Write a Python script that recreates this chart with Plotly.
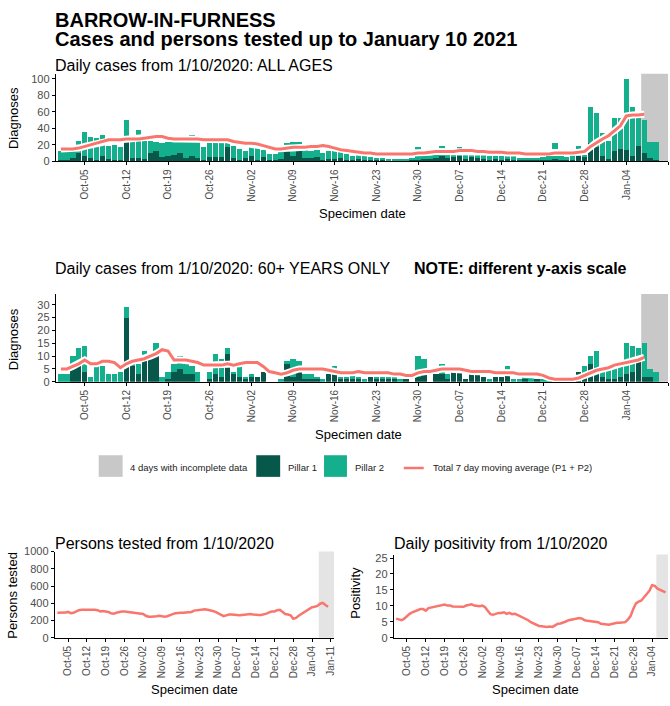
import pandas as pd
import plotly.graph_objects as go

# ---------------- data ----------------
start_date = "2020-10-01"

tick_dates = ["2020-10-05", "2020-10-12", "2020-10-19", "2020-10-26", "2020-11-02",
              "2020-11-09", "2020-11-16", "2020-11-23", "2020-11-30", "2020-12-07",
              "2020-12-14", "2020-12-21", "2020-12-28", "2021-01-04", "2021-01-11"]
tick_labels = ["Oct-05", "Oct-12", "Oct-19", "Oct-26", "Nov-02", "Nov-09", "Nov-16",
               "Nov-23", "Nov-30", "Dec-07", "Dec-14", "Dec-21", "Dec-28", "Jan-04", "Jan-11"]

# All ages: Pillar 1 / Pillar 2 daily cases (Oct 1 .. Jan 9)
all_p1 = [2, 1, 4, 10, 7, 4, 2, 6, 3, 2,
          1, 25, 4, 4, 3, 10, 13, 5, 7, 8,
          10, 4, 7, 4, 1, 5, 5, 5, 17, 4,
          2, 4, 6, 2, 5, 2, 1, 3, 12, 7,
          12, 4, 4, 5, 2, 3, 3, 4, 2, 2,
          3, 2, 1, 1, 2, 1, 1, 1, 1, 1,
          2, 3, 3, 4, 6, 4, 5, 7, 3, 5,
          4, 3, 2, 3, 2, 3, 2, 1, 1, 2,
          1, 1, 2, 3, 1, 1, 2, 6, 5, 22,
          17, 6, 3, 12, 15, 14, 6, 18, 10, 4,
          2]
all_p2 = [10, 11, 8, 15, 29, 25, 26, 26, 15, 18,
          16, 25, 21, 34, 22, 15, 11, 17, 17, 16,
          13, 19, 25, 19, 16, 18, 18, 18, 5, 14,
          13, 9, 12, 14, 9, 7, 8, 8, 10, 16,
          12, 10, 9, 10, 8, 10, 9, 7, 7, 5,
          5, 4, 4, 3, 2, 2, 2, 2, 2, 3,
          15, 6, 5, 9, 12, 6, 5, 10, 7, 5,
          6, 5, 4, 4, 5, 4, 4, 3, 3, 2,
          3, 4, 10, 19, 5, 4, 7, 12, 3, 44,
          41, 28, 22, 40, 37, 86, 60, 34, 40, 20,
          22]
all_ma = [15, 15, 15, 16, 18, 20, 22, 24, 26, 26,
          26, 27, 27, 27, 28, 29, 30, 30, 28, 27,
          27, 27, 27, 27, 26, 26, 26, 26, 26, 24,
          23, 22, 22, 21, 19, 17, 15, 15, 16, 17,
          17, 17, 18, 18, 19, 18, 16, 14, 13, 12,
          11, 10, 10, 9, 9, 9, 9, 9, 9, 9,
          10, 10, 11, 12, 12, 12, 12, 13, 13, 13,
          12, 12, 11, 11, 11, 10, 10, 10, 9, 9,
          9, 9, 9, 10, 10, 10, 10, 11, 12, 18,
          23, 27, 31, 37, 43, 55, 56, 56, 57]

# 60+ only
old_p1 = [0, 0, 5, 6, 4, 0, 0, 0, 0, 0,
          0, 25, 6, 3, 8, 9, 11, 0, 1, 4,
          5, 3, 3, 0, 0, 1, 3, 2, 11, 3,
          2, 1, 2, 2, 4, 0, 0, 0, 7, 2,
          4, 1, 1, 1, 0, 3, 5, 1, 1, 1,
          1, 0, 2, 1, 1, 1, 1, 0, 1, 0,
          2, 3, 0, 3, 3, 1, 4, 4, 1, 3,
          3, 2, 0, 2, 2, 3, 0, 0, 1, 0,
          1, 0, 0, 0, 0, 0, 0, 4, 3, 7,
          3, 2, 1, 1, 2, 3, 4, 8, 2, 2,
          0]
old_p2 = [3, 3, 5, 7, 10, 2, 6, 6, 3, 3,
          4, 4, 1, 4, 4, 2, 4, 2, 3, 3,
          5, 4, 3, 4, 0, 3, 8, 7, 2, 1,
          4, 1, 1, 0, 0, 0, 0, 1, 1, 7,
          4, 2, 2, 1, 1, 0, 1, 1, 1, 3,
          1, 1, 0, 1, 1, 1, 1, 1, 0, 0,
          8, 6, 0, 0, 4, 2, 0, 0, 0, 0,
          0, 0, 1, 0, 0, 3, 1, 1, 1, 2,
          0, 1, 1, 0, 0, 0, 0, 0, 3, 3,
          9, 4, 4, 5, 4, 12, 10, 5, 13, 3,
          4]
old_ma = [5, 5, 6, 7, 8.5, 7, 7, 8, 8, 7.5,
          5.5, 7, 8, 8.5, 9, 10, 11, 12.5, 12, 8.5,
          8.5, 8.5, 8, 7.5, 6.5, 6.5, 6.5, 6.5, 7, 6.5,
          7, 7.5, 7.5, 7.5, 6, 4, 3.5, 3, 3.5, 4.5,
          5, 5, 5, 5, 5, 4.5, 4, 3.5, 3.5, 3.5,
          4, 3.5, 3.5, 3.5, 3.5, 3.5, 3, 3, 2.5, 2.5,
          3.5, 4, 4, 4.5, 5, 5, 5, 5, 4.5, 4,
          4, 4, 4, 3.5, 3.5, 3.5, 3.5, 3, 3, 3,
          3, 2.5, 1.5, 1, 1, 1, 1, 1.5, 2.5, 3.5,
          4.5, 5, 5.5, 6.5, 7, 7.5, 8, 8.5, 9.5]

# Persons tested (Oct 1 .. Jan 10)
tested = [290, 290, 290, 292, 300, 285, 290, 305, 320, 325,
          327, 327, 325, 325, 325, 320, 305, 310, 305, 300,
          285, 280, 290, 300, 305, 305, 300, 300, 295, 285,
          280, 280, 275, 255, 245, 245, 245, 250, 255, 250,
          245, 250, 265, 275, 285, 290, 290, 290, 295, 295,
          300, 315, 320, 325, 330, 330, 325, 320, 310, 300,
          280, 260, 250, 260, 270, 270, 265, 260, 260, 265,
          270, 275, 275, 270, 265, 265, 265, 270, 280, 295,
          305, 305, 320, 325, 295, 275, 270, 260, 220, 230,
          255, 275, 290, 310, 330, 355, 360, 370, 395, 405,
          380, 360]

# Daily positivity, % (Oct 1 .. Jan 9)
positivity = [6.0, 5.7, 5.5, 6.0, 6.8, 7.5, 8.0, 8.4, 8.8, 9.0,
              9.0, 8.5, 9.3, 9.5, 9.5, 9.7, 9.9, 10.3, 10.4, 10.1,
              10.1, 9.8, 9.8, 9.9, 9.8, 9.7, 10.1, 10.3, 10.5, 10.1,
              9.9, 9.9, 10.1, 9.6, 8.5, 7.4, 7.2, 7.5, 7.8, 7.8,
              8.0, 7.5, 7.8, 7.4, 7.5, 7.2, 6.8, 6.5, 6.0, 5.5,
              4.9, 4.5, 4.1, 3.7, 3.6, 3.4, 3.4, 3.5, 3.4, 3.9,
              4.4, 4.5, 4.7, 5.1, 5.5, 5.7, 6.0, 6.2, 6.2, 6.0,
              5.5, 5.3, 5.2, 5.1, 5.1, 4.9, 4.4, 4.3, 4.2, 4.1,
              4.3, 4.6, 4.7, 4.7, 4.7, 4.9, 5.7, 6.8, 9.0, 10.8,
              11.3, 11.7, 12.7, 13.7, 14.7, 16.5, 16.3, 15.4, 15.0, 14.7,
              14.2]

# ---------------- styling ----------------
W, H = 670, 706
def fx(x):
    return x / W
def fy(y):
    return 1 - y / H

FONT = "Liberation Sans, Arial, sans-serif"
RED = "#F8766D"
P1C = "#07574A"
P2C = "#14AF8D"
GREY = "#C8C8C8"
LGREY = "#E4E4E4"
TICKC = "#4D4D4D"

bar_dates = pd.date_range(start_date, periods=len(all_p1))
ma_dates = pd.date_range(start_date, periods=len(all_ma))
old_ma_dates = pd.date_range(start_date, periods=len(old_ma))
tested_dates = pd.date_range(start_date, periods=len(tested))
pos_dates = pd.date_range(start_date, periods=len(positivity))

fig = go.Figure()

def add_panel(p1, p2, ma, ma_d, xa, ya):
    fig.add_trace(go.Bar(x=bar_dates, y=p1, marker=dict(color=P1C, line=dict(width=0)),
                         xaxis=xa, yaxis=ya, showlegend=False))
    fig.add_trace(go.Bar(x=bar_dates, y=p2, marker=dict(color=P2C, line=dict(width=0)),
                         xaxis=xa, yaxis=ya, showlegend=False))
    fig.add_trace(go.Scatter(x=ma_d, y=ma, mode="lines", line=dict(color="white", width=7),
                             xaxis=xa, yaxis=ya, showlegend=False, hoverinfo="skip"))
    fig.add_trace(go.Scatter(x=ma_d, y=ma, mode="lines", line=dict(color=RED, width=3),
                             xaxis=xa, yaxis=ya, showlegend=False))

add_panel(all_p1, all_p2, all_ma, ma_dates, "x", "y")
add_panel(old_p1, old_p2, old_ma, old_ma_dates, "x2", "y2")

fig.add_trace(go.Scatter(x=tested_dates, y=tested, mode="lines",
                         line=dict(color=RED, width=2.5), xaxis="x3", yaxis="y3",
                         showlegend=False))
fig.add_trace(go.Scatter(x=pos_dates, y=positivity, mode="lines",
                         line=dict(color=RED, width=2.5), xaxis="x4", yaxis="y4",
                         showlegend=False))

axis_common = dict(showline=True, linecolor="black", linewidth=1.2, ticks="outside",
                   ticklen=3, tickcolor="black", tickwidth=1, showgrid=False,
                   zeroline=False, fixedrange=True)

def xaxis(domain, rng, anchor):
    return dict(axis_common, domain=domain, range=rng, type="date", anchor=anchor,
                tickmode="array", tickvals=tick_dates, ticktext=tick_labels,
                tickangle=-90, tickfont=dict(family=FONT, size=10, color=TICKC))

def yaxis(domain, rng, tickvals, anchor, suffix=""):
    return dict(axis_common, domain=domain, range=rng, anchor=anchor,
                tickmode="array", tickvals=tickvals, ticksuffix=suffix,
                tickfont=dict(family=FONT, size=11, color=TICKC))

fig.update_layout(
    width=W, height=H, autosize=False,
    margin=dict(l=0, r=0, t=0, b=0),
    paper_bgcolor="white", plot_bgcolor="white",
    barmode="stack", bargap=0.1,
    font=dict(family=FONT, color="black"),
    xaxis=xaxis([fx(56), 1.0], ["2020-09-30 03:30", "2021-01-11 00:00"], "y"),
    yaxis=yaxis([fy(158), fy(69)], [0, 106], [0, 20, 40, 60, 80, 100], "x"),
    xaxis2=xaxis([fx(56), 1.0], ["2020-09-30 03:30", "2021-01-11 00:00"], "y2"),
    yaxis2=yaxis([fy(382.3), fy(293)], [0, 34.2], [0, 5, 10, 15, 20, 25, 30], "x2"),
    xaxis3=xaxis([fx(55), fx(335)], ["2020-09-30 01:12", "2021-01-12 04:48"], "y3"),
    yaxis3=yaxis([fy(642.7), fy(555)], [0, 1000], [0, 200, 400, 600, 800, 1000], "x3"),
    xaxis4=xaxis([fx(395), 1.0], ["2020-09-30 03:07", "2021-01-09 21:36"], "y4"),
    yaxis4=yaxis([fy(642.7), fy(558)], [0, 26.1], [0, 5, 10, 15, 20, 25], "x4", "%"),
)

shapes = [
    dict(type="rect", xref="x", yref="y domain", x0="2021-01-06 12:00", x1="2021-01-11 12:00",
         y0=0, y1=1, fillcolor=GREY, line=dict(width=0), layer="below"),
    dict(type="rect", xref="x2", yref="y2 domain", x0="2021-01-06 12:00", x1="2021-01-11 12:00",
         y0=0, y1=1, fillcolor=GREY, line=dict(width=0), layer="below"),
    dict(type="rect", xref="x3", yref="y3 domain", x0="2021-01-06 12:00", x1="2021-01-12 04:48",
         y0=0, y1=1, fillcolor=LGREY, line=dict(width=0), layer="below"),
    dict(type="rect", xref="x4", yref="y4 domain", x0="2021-01-05 14:00", x1="2021-01-09 21:36",
         y0=0, y1=1, fillcolor=LGREY, line=dict(width=0), layer="below"),
    # legend swatches
    dict(type="rect", xref="paper", yref="paper", x0=fx(99), x1=fx(123), y0=fy(479), y1=fy(457),
         fillcolor=GREY, line=dict(width=0)),
    dict(type="rect", xref="paper", yref="paper", x0=fx(257), x1=fx(281), y0=fy(479), y1=fy(457),
         fillcolor=P1C, line=dict(width=0)),
    dict(type="rect", xref="paper", yref="paper", x0=fx(325), x1=fx(348), y0=fy(479), y1=fy(457),
         fillcolor=P2C, line=dict(width=0)),
    dict(type="line", xref="paper", yref="paper", x0=fx(405), x1=fx(425), y0=fy(470), y1=fy(470),
         line=dict(color=RED, width=2.5)),
]
fig.update_layout(shapes=shapes)

def ann(text, x, y, size, xanchor="left", angle=0, bold=False, color="black"):
    fig.add_annotation(text=("<b>%s</b>" % text) if bold else text,
                       x=fx(x), y=fy(y), xref="paper", yref="paper",
                       xanchor=xanchor, yanchor="middle", showarrow=False, textangle=angle,
                       borderpad=0,
                       font=dict(family=FONT, size=size, color=color))

ann("BARROW-IN-FURNESS", 54, 14, 20, bold=True)
ann("Cases and persons tested up to January 10 2021", 54, 34, 20, bold=True)
ann("Daily cases from 1/10/2020: ALL AGES", 54, 61, 16)
ann("Daily cases from 1/10/2020: 60+ YEARS ONLY", 54, 267, 16)
ann("NOTE: different y-axis scale", 414, 267, 16, bold=True)
ann("Persons tested from 1/10/2020", 54, 547, 16)
ann("Daily positivity from 1/10/2020", 394, 547, 16)

ann("Diagnoses", 13, 114, 13, xanchor="center", angle=-90)
ann("Diagnoses", 13, 339, 13, xanchor="center", angle=-90)
ann("Persons tested", 13, 599, 13, xanchor="center", angle=-90)
ann("Positivity", 357, 597, 13, xanchor="center", angle=-90)

ann("Specimen date", 364, 211, 13, xanchor="center")
ann("Specimen date", 360, 436, 13, xanchor="center")
ann("Specimen date", 195, 695, 13, xanchor="center")
ann("Specimen date", 537, 695, 13, xanchor="center")

ann("4 days with incomplete data", 129, 469, 9.5, color="#222222")
ann("Pillar 1", 288, 469, 9.5, color="#222222")
ann("Pillar 2", 355, 469, 9.5, color="#222222")
ann("Total 7 day moving average (P1 + P2)", 433, 469, 9.5, color="#222222")

fig.write_html("out.html", config={"displayModeBar": False},
               post_script="document.body.style.margin='0';document.body.style.overflow='hidden';")
